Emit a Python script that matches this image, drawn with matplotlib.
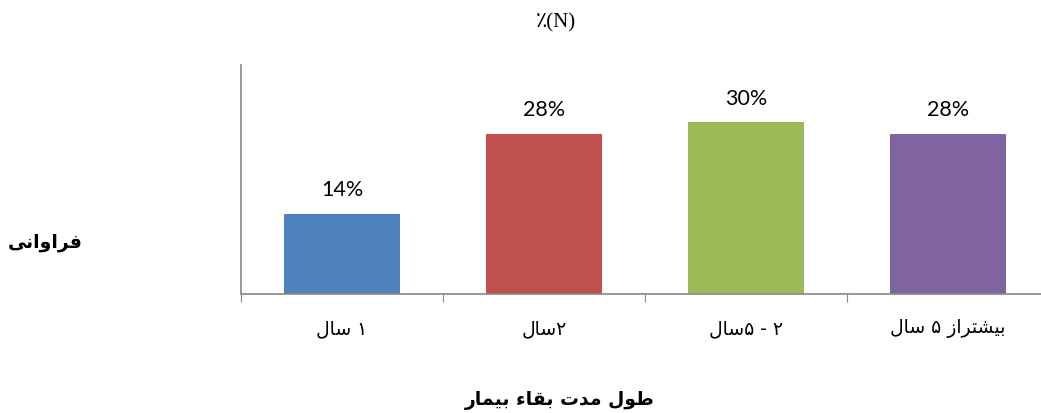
import matplotlib
matplotlib.use("Agg")
import matplotlib.pyplot as plt

# data
categories = ["۱ سال", "۲سال", "۲ - ۵سال", "بیشتراز ۵ سال"]
values = [14, 28, 30, 28]
colors = ["#4F81BD", "#C0504D", "#9BBB59", "#8064A2"]
title = "٪(N)"
ylabel = "فراوانی"
xlabel = "طول مدت بقاء بیمار"

# presentation forms (iso, fin, ini, med) - matplotlib does no arabic shaping
FORMS = {
    "ا": ("\uFE8D", "\uFE8E"),
    "ب": ("\uFE8F", "\uFE90", "\uFE91", "\uFE92"),
    "ت": ("\uFE95", "\uFE96", "\uFE97", "\uFE98"),
    "د": ("\uFEA9", "\uFEAA"),
    "ر": ("\uFEAD", "\uFEAE"),
    "ز": ("\uFEAF", "\uFEB0"),
    "س": ("\uFEB1", "\uFEB2", "\uFEB3", "\uFEB4"),
    "ش": ("\uFEB5", "\uFEB6", "\uFEB7", "\uFEB8"),
    "ط": ("\uFEC1", "\uFEC2", "\uFEC3", "\uFEC4"),
    "ف": ("\uFED1", "\uFED2", "\uFED3", "\uFED4"),
    "ق": ("\uFED5", "\uFED6", "\uFED7", "\uFED8"),
    "ل": ("\uFEDD", "\uFEDE", "\uFEDF", "\uFEE0"),
    "م": ("\uFEE1", "\uFEE2", "\uFEE3", "\uFEE4"),
    "ن": ("\uFEE5", "\uFEE6", "\uFEE7", "\uFEE8"),
    "و": ("\uFEED", "\uFEEE"),
    "ی": ("\uFBFC", "\uFBFD", "\uFBFE", "\uFBFF"),
    "ء": ("\uFE80",),
}


def shape_run(run):
    out = []
    for i, ch in enumerate(run):
        f = FORMS[ch]
        prev = run[i - 1] if i > 0 else None
        nxt = run[i + 1] if i < len(run) - 1 else None
        jp = prev is not None and len(FORMS[prev]) == 4 and len(f) > 1
        jn = nxt is not None and len(f) == 4 and len(FORMS[nxt]) > 1
        if jp and jn:
            out.append(f[3])
        elif jp:
            out.append(f[1])
        elif jn:
            out.append(f[2])
        else:
            out.append(f[0])
    return "".join(out)


def fa(s):
    # shape, then lay out right-to-left (digits here are single chars)
    res, run = "", ""
    for ch in s:
        if ch in FORMS:
            run += ch
        else:
            res += shape_run(run) + ch
            run = ""
    res += shape_run(run)
    return res[::-1]


fig = plt.figure(figsize=(10.41, 4.13), dpi=100)
ax = fig.add_axes([241 / 1041, 119 / 413, 808 / 1041, 229 / 413])

x = range(len(values))
bars = ax.bar(x, values, width=0.57, color=colors)
for b, v in zip(bars, values):
    ax.text(b.get_x() + b.get_width() / 2, v + 3.1, "%d%%" % v,
            ha="center", va="baseline", fontsize=15.5,
            family=["Lato", "DejaVu Sans"])

ax.set_xlim(-0.5, len(values) - 0.5)
ax.set_ylim(0, 40)
ax.set_xticks([i - 0.5 for i in range(len(values) + 1)])
ax.set_xticklabels([])
ax.set_xticks(list(x), minor=True)
ax.set_xticklabels([fa(c) for c in categories], minor=True, fontsize=13.5)
ax.tick_params(axis="x", which="major", length=6, color="#888888")
ax.tick_params(axis="x", which="minor", length=0, pad=18)
ax.set_yticks([])
for s in ["top", "right"]:
    ax.spines[s].set_visible(False)
for s in ["left", "bottom"]:
    ax.spines[s].set_color("#888888")
    ax.spines[s].set_linewidth(1.2)

fig.text(556 / 1041, 1 - 23 / 413, title, ha="center", va="center",
         fontsize=15, family=["Liberation Serif", "DejaVu Sans"])
fig.text(45 / 1041, 1 - 242 / 413, fa(ylabel), ha="center", va="center",
         fontsize=13.5, fontweight="bold")
fig.text(560 / 1041, 1 - 400 / 413, fa(xlabel), ha="center", va="center",
         fontsize=13.5, fontweight="bold")

fig.savefig("out.png", dpi=100)
